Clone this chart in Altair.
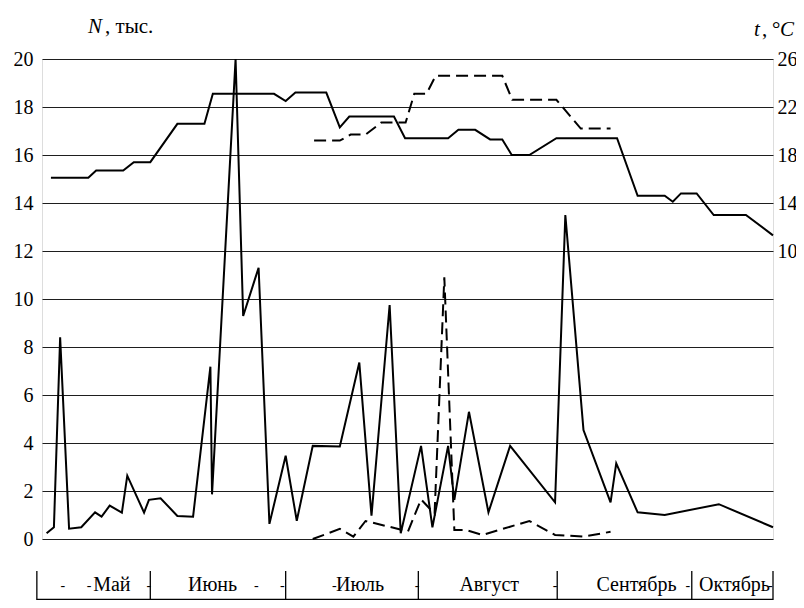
import altair as alt
import pandas as pd

# x = index of the 6-day period counted from the left edge of the plot (gridlines at integers)
n_solid_x = [0.17, 0.44, 0.67, 1.0, 1.45, 1.96, 2.2, 2.5, 2.95, 3.15, 3.77, 3.95, 4.38, 5.0, 5.58,
             6.22, 6.28, 7.15, 7.43, 8.0, 8.4, 9.0, 9.41, 10.0, 11.0, 11.72, 12.17, 12.84, 13.25,
             14.0, 14.42, 15.0, 15.23, 15.77, 16.49, 17.29, 18.95, 19.33, 20.0, 21.0, 21.21, 22.0,
             23.0, 25.0, 27.0]
n_solid_y = [0.24, 0.49, 8.4, 0.43, 0.49, 1.11, 0.93, 1.39, 1.10, 2.64, 1.10, 1.63, 1.70, 0.96, 0.93,
             7.18, 1.86, 20.0, 9.29, 11.3, 0.63, 3.47, 0.76, 3.88, 3.85, 7.35, 0.97, 9.75, 0.24,
             3.88, 0.49, 3.88, 1.63, 5.30, 1.11, 3.88, 1.53, 13.5, 4.54, 1.53, 3.15, 1.11,
             1.0, 1.45, 0.49]

n_dash_x = [10.0, 11.0, 11.5, 11.95, 13.52, 14.0, 14.5, 14.86, 15.23, 15.67, 16.27, 18.0, 18.95, 20.0, 21.0]
n_dash_y = [0.0, 0.42, 0.1, 0.75, 0.32, 1.65, 1.05, 10.9, 0.37, 0.37, 0.17, 0.75, 0.17, 0.1, 0.3]

t_solid_x = [0.33, 1.71, 2.0, 3.0, 3.39, 4.0, 5.0, 6.0, 6.31, 8.57, 9.0, 9.36, 10.5, 11.0, 11.35,
             13.0, 13.41, 15.0, 15.38, 16.0, 16.55, 17.0, 17.35, 18.0, 19.0, 21.24, 22.0, 23.0,
             23.3, 23.6, 24.18, 24.81, 26.0, 27.0]
t_solid_y = [16.1, 16.1, 16.7, 16.7, 17.4, 17.4, 20.6, 20.6, 23.1, 23.1, 22.5, 23.2, 23.2, 20.3, 21.2,
             21.2, 19.4, 19.4, 20.1, 20.1, 19.3, 19.3, 18.0, 18.0, 19.4, 19.4, 14.6, 14.6,
             14.1, 14.8, 14.8, 13.0, 13.0, 11.3]

t_dash_x = [10.05, 11.0, 11.4, 11.95, 12.53, 13.43, 13.75, 14.2, 14.54, 17.0, 17.37, 19.0, 19.9, 21.0]
t_dash_y = [19.2, 19.2, 19.7, 19.7, 20.7, 20.7, 23.1, 23.1, 24.6, 24.6, 22.6, 22.6, 20.2, 20.2]

n_ticks = list(range(0, 21, 2))
t_ticks = [10, 14, 18, 22, 26]
grid_x = list(range(0, 28))

months = ["Май", "Июнь", "Июль", "Август", "Сентябрь", "Октябрь"]
month_pos = [2.58, 6.3, 11.75, 16.52, 21.96, 25.58]
dividers = [-0.19, 4.0, 9.0, 13.9, 19.03, 24.0, 27.0]
marks_x = [0.77, 1.74, 3.95, 7.92, 8.88, 10.8, 13.85, 18.95, 23.85, 26.9]

FONT = "Liberation Serif"
xs = alt.Scale(domain=[0, 27], nice=False, zero=False)
ys_n = alt.Scale(domain=[0, 20], nice=False, zero=False)
ys_t = alt.Scale(domain=[-14, 26], nice=False, zero=False)

df_ns = pd.DataFrame({"x": n_solid_x, "n": n_solid_y})
df_nd = pd.DataFrame({"x": n_dash_x, "n": n_dash_y})
df_ts = pd.DataFrame({"x": t_solid_x, "t": t_solid_y})
df_td = pd.DataFrame({"x": t_dash_x, "t": t_dash_y})
df_m = pd.DataFrame({"x": month_pos, "label": months})
df_div = pd.DataFrame({"x": dividers})
df_mk = pd.DataFrame({"x": marks_x})
df_hl = pd.DataFrame({"x": [dividers[0]], "x2": [dividers[-1]]})

x_axis = alt.Axis(values=grid_x, grid=True, labels=False, ticks=False, domain=False, title=None,
                  gridColor="#1e1e1e", gridWidth=1.2, gridOpacity=1)
y_axis = alt.Axis(values=n_ticks, grid=True, ticks=False, domain=False, title=None,
                  gridColor="#1e1e1e", gridWidth=1.2, gridOpacity=1,
                  labelFont=FONT, labelFontSize=20, labelColor="black", labelPadding=9)
t_axis = alt.Axis(orient="right", values=t_ticks, grid=False, ticks=False, domain=False, title=None,
                  labelFont=FONT, labelFontSize=20, labelColor="black", labelPadding=4)

n_solid = alt.Chart(df_ns).mark_line(color="black", strokeWidth=2).encode(
    x=alt.X("x:Q", scale=xs, axis=x_axis),
    y=alt.Y("n:Q", scale=ys_n, axis=y_axis),
    order="x:Q")
n_dash = alt.Chart(df_nd).mark_line(color="black", strokeWidth=2, strokeDash=[12, 6]).encode(
    x=alt.X("x:Q", scale=xs, axis=None),
    y=alt.Y("n:Q", scale=ys_n),
    order="x:Q")
t_solid = alt.Chart(df_ts).mark_line(color="black", strokeWidth=2).encode(
    x=alt.X("x:Q", scale=xs, axis=None),
    y=alt.Y("t:Q", scale=ys_t, axis=t_axis),
    order="x:Q")
t_dash = alt.Chart(df_td).mark_line(color="black", strokeWidth=2, strokeDash=[12, 6]).encode(
    x=alt.X("x:Q", scale=xs, axis=None),
    y=alt.Y("t:Q", scale=ys_t),
    order="x:Q")

left = alt.layer(n_solid, n_dash)
right = alt.layer(t_solid, t_dash)

# axis titles
def txt(s, x, y, italic=False, size=21, align="left"):
    return alt.Chart(pd.DataFrame({"s": [s]})).mark_text(
        font=FONT, fontSize=size, fontStyle="italic" if italic else "normal",
        align=align, baseline="alphabetic", color="black").encode(
        text="s:N", x=alt.value(x), y=alt.value(y))

titles = [
    txt("N", 46, -26, italic=True),
    txt(", тыс.", 63, -26),
    txt("t", 712, -23, italic=True),
    txt(",", 720, -23),
    txt("°", 730, -23),
    txt("C", 738, -23, italic=True),
]

month_text = alt.Chart(df_m).mark_text(font=FONT, fontSize=20, color="black", align="center",
                                       baseline="alphabetic").encode(
    x=alt.X("x:Q", scale=xs, axis=None), y=alt.value(532), text="label:N")
div_rules = alt.Chart(df_div).mark_rule(color="black", strokeWidth=1.3).encode(
    x=alt.X("x:Q", scale=xs, axis=None), y=alt.value(512), y2=alt.value(552))
h_rule = alt.Chart(df_hl).mark_rule(color="black", strokeWidth=1.5).encode(
    x=alt.X("x:Q", scale=xs, axis=None), x2="x2:Q", y=alt.value(540.5))
small_marks = alt.Chart(df_mk).mark_text(text="-", font=FONT, fontSize=14, color="black",
                                         baseline="middle").encode(
    x=alt.X("x:Q", scale=xs, axis=None), y=alt.value(527))

chart = alt.layer(left, right, month_text, div_rules, h_rule, small_marks, *titles).resolve_scale(
    y="independent"
).properties(
    width=731, height=480,
    autosize=alt.AutoSizeParams(type="none"),
    padding={"left": 34, "top": 51, "right": 23, "bottom": 61},
).configure_view(stroke="black", strokeWidth=2.5).configure(background="white")

chart.save("out.html", embed_options={"renderer": "svg", "actions": False})
